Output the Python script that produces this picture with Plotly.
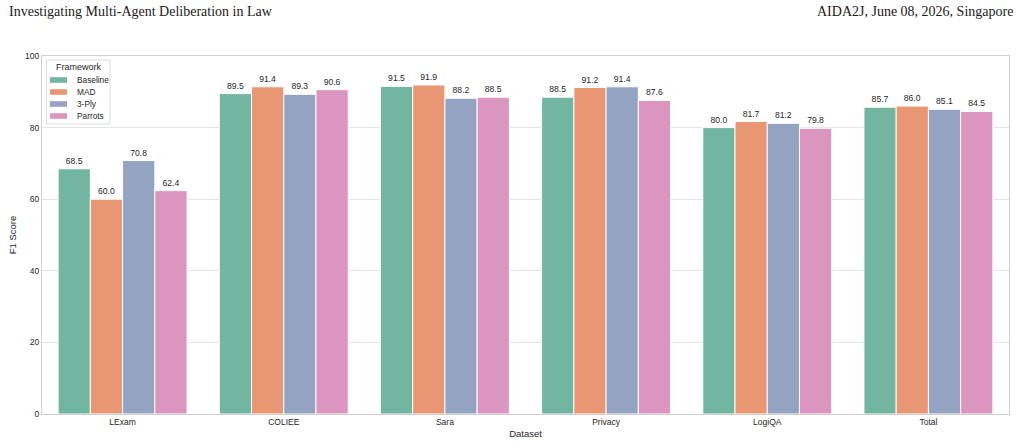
import plotly.graph_objects as go

datasets = ["LExam", "COLIEE", "Sara", "Privacy", "LogiQA", "Total"]
frameworks = ["Baseline", "MAD", "3-Ply", "Parrots"]
baseline = [68.5, 89.5, 91.5, 88.5, 80.0, 85.7]
mad = [60.0, 91.4, 91.9, 91.2, 81.7, 86.0]
three_ply = [70.8, 89.3, 88.2, 91.4, 81.2, 85.1]
parrots = [62.4, 90.6, 88.5, 87.6, 79.8, 84.5]
series = [baseline, mad, three_ply, parrots]
colors = ["#72b6a1", "#e99675", "#95a3c3", "#db96c0"]

FONT = "Liberation Sans, Arial, sans-serif"
L, R, T, B = 42, 11, 56, 32
W, H = 1020, 446
PW, PH = W - L - R, H - T - B


def px(x):
    return (x - L) / PW


def py(y):
    return (H - B - y) / PH


fig = go.Figure()
for name, vals, col in zip(frameworks, series, colors):
    fig.add_trace(go.Bar(
        x=datasets, y=vals, name=name, showlegend=False,
        marker=dict(color=col, line=dict(color="white", width=1)),
        text=[f"{v:.1f}" for v in vals], textposition="outside",
        textfont=dict(size=8.6, color="#262626", family=FONT),
        cliponaxis=False,
    ))

fig.update_layout(
    width=W, height=H,
    margin=dict(l=L, r=R, t=T, b=B),
    paper_bgcolor="white", plot_bgcolor="white",
    barmode="group", bargap=0.2, bargroupgap=0,
    font=dict(family=FONT, size=8.5, color="#262626"),
    showlegend=False,
)
fig.update_xaxes(
    title=dict(text="Dataset", font=dict(size=9.5), standoff=4),
    showgrid=False, showline=True, linecolor="#d0d0d0", linewidth=1.2, mirror=True,
    ticks="", tickfont=dict(size=8.5), range=[-0.5, 5.5], automargin=False,
)
fig.update_yaxes(
    title=dict(text="F1 Score", font=dict(size=9.5), standoff=6),
    range=[0, 100], dtick=20, showgrid=True, gridcolor="#e3e3e3", gridwidth=1,
    showline=True, linecolor="#d0d0d0", linewidth=1.2, mirror=True,
    zeroline=False, ticks="", tickfont=dict(size=8.5), automargin=False,
)

# Legend (drawn in paper coordinates)
shapes = [dict(type="rect", xref="paper", yref="paper",
               x0=px(46.5), x1=px(110), y0=py(124), y1=py(60),
               fillcolor="rgba(255,255,255,0.85)", line=dict(color="#dcdcdc", width=1), layer="above")]
annotations = [dict(text="Framework", xref="paper", yref="paper", x=px(78.5), y=py(66.5),
                    xanchor="center", yanchor="middle", showarrow=False,
                    font=dict(size=9, family=FONT, color="#262626"))]
item_y = [80, 92, 104, 116]
for name, col, iy in zip(frameworks, colors, item_y):
    shapes.append(dict(type="rect", xref="paper", yref="paper",
                       x0=px(50), x1=px(67), y0=py(iy + 2.8), y1=py(iy - 2.8),
                       fillcolor=col, line=dict(width=0), layer="above"))
    annotations.append(dict(text=name, xref="paper", yref="paper", x=px(74.5), y=py(iy),
                            xanchor="left", yanchor="middle", showarrow=False,
                            font=dict(size=8.3, family=FONT, color="#262626")))

annotations.append(dict(text="Investigating Multi-Agent Deliberation in Law", xref="paper", yref="paper",
                        x=px(7), y=py(11.5), xanchor="left", yanchor="middle", showarrow=False,
                        font=dict(family="Liberation Serif, serif", size=14, color="#1a1a1a")))
annotations.append(dict(text="AIDA2J, June 08, 2026, Singapore", xref="paper", yref="paper",
                        x=px(1015), y=py(11.5), xanchor="right", yanchor="middle", showarrow=False,
                        font=dict(family="Liberation Serif, serif", size=14, color="#1a1a1a")))
fig.update_layout(shapes=shapes, annotations=annotations)

fig.write_html("out.html")
